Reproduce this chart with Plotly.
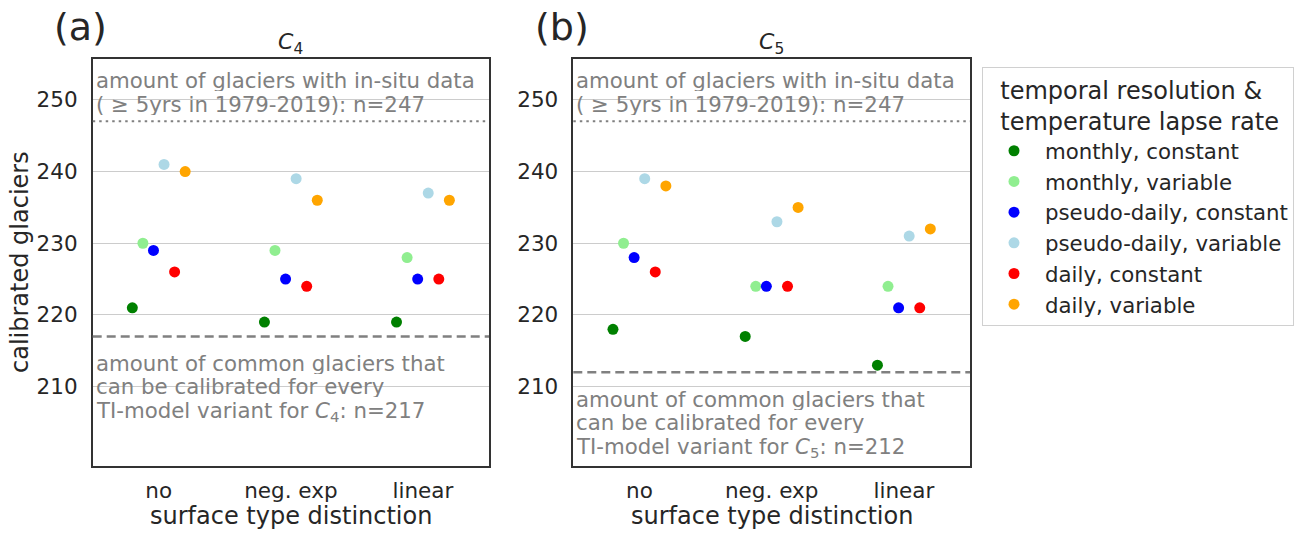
import plotly.graph_objects as go

# surface type distinction categories (x axis)
categories = ["no", "neg. exp", "linear"]

# model variants: temporal resolution & temperature lapse rate
variants = [
    "monthly, constant",
    "monthly, variable",
    "pseudo-daily, constant",
    "pseudo-daily, variable",
    "daily, constant",
    "daily, variable",
]
variant_colors = ["#008000", "#90ee90", "#0000ff", "#add8e6", "#ff0000", "#ffa500"]

# number of calibrated glaciers per variant, for each surface type distinction
c4_monthly_constant = [221, 219, 219]
c4_monthly_variable = [230, 229, 228]
c4_pseudo_constant = [229, 225, 225]
c4_pseudo_variable = [241, 239, 237]
c4_daily_constant = [226, 224, 225]
c4_daily_variable = [240, 236, 236]

c5_monthly_constant = [218, 217, 213]
c5_monthly_variable = [230, 224, 224]
c5_pseudo_constant = [228, 224, 221]
c5_pseudo_variable = [239, 233, 231]
c5_daily_constant = [226, 224, 221]
c5_daily_variable = [238, 235, 232]

c4_values = [c4_monthly_constant, c4_monthly_variable, c4_pseudo_constant,
             c4_pseudo_variable, c4_daily_constant, c4_daily_variable]
c5_values = [c5_monthly_constant, c5_monthly_variable, c5_pseudo_constant,
             c5_pseudo_variable, c5_daily_constant, c5_daily_variable]

# reference counts
n_insitu = 247
n_common_c4 = 217
n_common_c5 = 212

W, H = 1311, 533
FONT = "DejaVu Sans"
TXT = "#262626"
GRAY = "#808080"


def py(px):
    """Pixel row -> paper coordinate."""
    return 1 - px / H


fig = go.Figure()

for i, (name, color) in enumerate(zip(variants, variant_colors)):
    fig.add_trace(go.Scatter(
        x=categories, y=c4_values[i], mode="markers", name=name,
        marker=dict(color=color, size=11, line=dict(width=0)),
        legendgroup=name, showlegend=True, xaxis="x", yaxis="y",
    ))
for i, (name, color) in enumerate(zip(variants, variant_colors)):
    fig.add_trace(go.Scatter(
        x=categories, y=c5_values[i], mode="markers", name=name,
        marker=dict(color=color, size=11, line=dict(width=0)),
        legendgroup=name, showlegend=False, xaxis="x2", yaxis="y2",
    ))

y_range = [199.0, 255.7]
ydom = [py(465.5), py(59)]
xdom1 = [92.7 / W, 489 / W]
xdom2 = [573.3 / W, 970 / W]

axis_common = dict(
    showline=True, mirror=True, linecolor="#333333", linewidth=1.5,
    tickfont=dict(family=FONT, size=21.5, color=TXT),
    ticks="", zeroline=False,
)
yaxis_common = dict(
    range=y_range, tickvals=[210, 220, 230, 240, 250], showgrid=True,
    gridcolor="#cccccc", gridwidth=1, ticklabelstandoff=9, **axis_common,
)
xaxis_common = dict(
    type="category", range=[-0.5, 2.5], showgrid=False,
    ticklabelstandoff=5, **axis_common,
)

nb = "\u00a0\u00a0"
fig.update_layout(
    width=W, height=H, autosize=False,
    margin=dict(l=0, r=0, t=0, b=0),
    paper_bgcolor="white", plot_bgcolor="white",
    scattermode="group", scattergap=0.52,
    font=dict(family=FONT, color=TXT),
    xaxis=dict(domain=xdom1, anchor="y", **xaxis_common),
    yaxis=dict(domain=ydom, anchor="x", **yaxis_common),
    xaxis2=dict(domain=xdom2, anchor="y2", **xaxis_common),
    yaxis2=dict(domain=ydom, anchor="x2", **yaxis_common),
    legend=dict(
        x=982 / W, y=py(67), xanchor="left", yanchor="top",
        bordercolor="#d0d0d0", borderwidth=1, bgcolor="white",
        font=dict(family=FONT, size=21.3, color=TXT),
        title=dict(text=f"{nb}temporal resolution &<br>{nb}temperature lapse rate",
                   font=dict(family=FONT, size=24, color=TXT)),
        itemsizing="trace", itemwidth=52, tracegroupgap=0,
    ),
)

# horizontal reference lines
for xr, yr, n_common in (("x", "y", n_common_c4), ("x2", "y2", n_common_c5)):
    fig.add_shape(type="line", xref=f"{xr} domain", yref=yr, x0=0, x1=1,
                  y0=n_insitu, y1=n_insitu,
                  line=dict(color=GRAY, width=2, dash="2.5px,4px"))
    fig.add_shape(type="line", xref=f"{xr} domain", yref=yr, x0=0, x1=1,
                  y0=n_common, y1=n_common,
                  line=dict(color=GRAY, width=2.5, dash="9px,5px"))

ann_font = dict(family=FONT, size=21.3, color=GRAY)


def text_block(xr, lines, centers_px):
    # one annotation per line keeps the tight line spacing of the text blocks
    for line, cy in zip(lines, centers_px):
        fig.add_annotation(
            xref=f"{xr} domain", yref="paper", x=0.0, y=py(cy),
            xanchor="left", yanchor="middle", align="left", valign="middle",
            height=22, showarrow=False, font=ann_font, xshift=1, text=line,
        )


for xr, sub, n_common, low_centers in (
        ("x", "4", n_common_c4, (362.5, 386, 411.5)),
        ("x2", "5", n_common_c5, (398.5, 422, 447.5))):
    text_block(xr, ["amount of glaciers with in-situ data",
                    f"( ≥ 5yrs in 1979-2019): n={n_insitu}"], (79.7, 104))
    text_block(xr, ["amount of common glaciers that",
                    "can be calibrated for every",
                    f"TI-model variant for <i>C</i><sub>{sub}</sub>: n={n_common}"],
               low_centers)
    # panel title
    fig.add_annotation(
        xref=f"{xr} domain", yref="paper", x=0.5, y=py(43),
        xanchor="center", yanchor="middle", showarrow=False,
        font=dict(family=FONT, size=22, color=TXT),
        text=f"<i>C</i><sub>{sub}</sub>",
    )
    # x axis title
    fig.add_annotation(
        xref=f"{xr} domain", yref="paper", x=0.5, y=py(516),
        xanchor="center", yanchor="middle", showarrow=False,
        font=dict(family=FONT, size=24, color=TXT),
        text="surface type distinction",
    )

# panel labels
for lbl, px in (("(a)", 80), ("(b)", 562)):
    fig.add_annotation(
        xref="paper", yref="paper", x=px / W, y=py(27),
        xanchor="center", yanchor="middle", showarrow=False,
        font=dict(family=FONT, size=38, color=TXT), text=lbl,
    )

# y axis title
fig.add_annotation(
    xref="paper", yref="paper", x=20 / W, y=py(262),
    xanchor="center", yanchor="middle", showarrow=False, textangle=-90,
    font=dict(family=FONT, size=24, color=TXT), text="calibrated glaciers",
)

fig.write_html("out.html")
